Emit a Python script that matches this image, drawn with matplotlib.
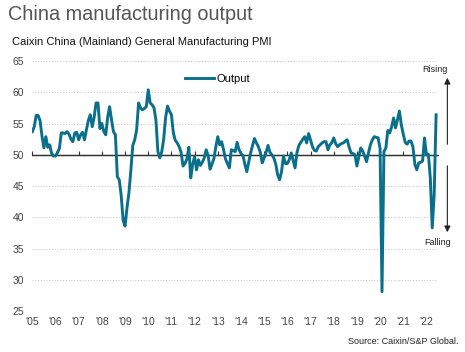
import numpy as np
import matplotlib.pyplot as plt

plt.rcParams['font.family'] = ['Liberation Sans', 'DejaVu Sans']

# Caixin China manufacturing PMI, output index, monthly Jan 2005 - Jun 2022
output = [
    53.7, 54.5, 56.3, 56.3, 55.5, 53.0, 51.1, 52.9, 51.2, 51.6, 50.2, 49.8,  # 2005
    49.8, 50.3, 51.0, 53.5, 53.5, 53.4, 53.7, 53.3, 52.5, 52.1, 53.5, 53.6,  # 2006
    52.4, 53.2, 53.6, 52.4, 54.0, 55.5, 56.4, 54.5, 56.0, 58.3, 58.3, 54.2,  # 2007
    55.0, 53.7, 53.2, 56.0, 57.7, 55.6, 53.7, 53.2, 46.5, 46.0, 43.5, 39.5,  # 2008
    38.6, 41.5, 43.9, 47.5, 51.5, 52.4, 54.0, 58.3, 57.5, 57.2, 57.4, 57.7,  # 2009
    60.4, 58.3, 58.0, 57.5, 55.5, 50.5, 49.5, 50.5, 52.5, 56.0, 57.8, 57.0,  # 2010
    56.4, 53.5, 52.3, 51.9, 51.3, 50.4, 48.2, 48.6, 49.3, 51.2, 46.3, 48.5,  # 2011
    49.7, 47.6, 49.2, 48.3, 48.8, 49.5, 50.8, 49.9, 47.7, 48.5, 49.4, 51.3,  # 2012
    52.9, 51.6, 52.1, 50.8, 49.3, 48.6, 47.9, 50.8, 50.7, 50.5, 52.0, 50.8,  # 2013
    50.2, 49.9, 48.5, 47.3, 48.8, 50.3, 51.5, 52.6, 51.9, 51.3, 50.4, 48.7,  # 2014
    49.5, 50.4, 51.5, 50.4, 50.0, 49.5, 48.5, 46.8, 46.0, 47.3, 49.8, 48.6,  # 2015
    48.6, 49.2, 50.3, 49.1, 47.9, 50.4, 51.5, 52.0, 52.5, 52.9, 51.9, 53.4,  # 2016
    52.4, 51.3, 50.7, 50.6, 51.3, 51.6, 51.9, 52.1, 52.1, 50.8, 51.6, 51.9,  # 2017
    52.7, 51.8, 51.3, 51.6, 51.8, 51.9, 52.2, 52.4, 51.2, 50.3, 50.2, 50.0,  # 2018
    48.2, 49.7, 51.1, 50.6, 49.8, 48.9, 50.3, 51.6, 52.4, 52.9, 52.8, 52.7,  # 2019
    51.0, 28.1, 50.5, 51.1, 53.9, 53.5, 54.5, 55.9, 54.3, 55.6, 57.0, 54.8,  # 2020
    53.3, 52.0, 51.7, 52.2, 52.2, 51.3, 48.5, 47.6, 48.7, 48.8, 49.0, 52.7,  # 2021
    50.0, 50.1, 46.3, 38.3, 43.6, 56.4,                                      # 2022
]
start_year = 2005
years = list(range(2005, 2023))
year_labels = ["'" + str(y)[2:] for y in years]
y_ticks = [25, 30, 35, 40, 45, 50, 55, 60, 65]

line_color = '#0a6f8b'
text_gray = '#444444'

x = start_year + np.arange(len(output)) / 12

fig = plt.figure(figsize=(4.65, 3.52), dpi=100)
ax = fig.add_axes([0.0695, 0.1165, 0.8725, 0.710])

for v in y_ticks:
    if v != 50:
        ax.axhline(v, color='#cccccc', lw=0.8, ls=(0, (1, 1.5)), zorder=0)
ax.axhline(50, color='#333333', lw=1.0, zorder=1)

ax.plot(x, output, color=line_color, lw=2.1, label='Output', zorder=3,
        solid_joinstyle='round')

ax.set_xlim(2005, 2022.5)
ax.set_ylim(25, 65)
for s in ax.spines.values():
    s.set_visible(False)

ax.set_yticks(y_ticks)
ax.set_yticklabels([str(v) for v in y_ticks])
ax.set_xticks(years)
ax.set_xticklabels(year_labels)
ax.tick_params(axis='both', length=0, labelsize=7.5, labelcolor=text_gray)
ax.tick_params(axis='y', pad=6)
ax.tick_params(axis='x', pad=4)

# small year ticks hanging under the 50 line
sec = ax.secondary_xaxis((50 - 25) / 40)
sec.spines['bottom'].set_visible(False)
sec.set_xticks(years)
sec.set_xticklabels([])
sec.tick_params(axis='x', length=3, width=0.8, color='#333333', direction='out')

leg = ax.legend(loc='center left', bbox_to_anchor=(0.352, 0.93), frameon=False,
                fontsize=8, handlelength=2.6, handletextpad=0.2)

# rising / falling arrows
ax.annotate('', xy=(1.023, 0.944), xytext=(1.023, 0.656), xycoords='axes fraction',
            arrowprops=dict(arrowstyle='-|>', color='#222222', lw=0.8,
                            mutation_scale=9), annotation_clip=False)
ax.annotate('', xy=(1.023, 0.304), xytext=(1.023, 0.592), xycoords='axes fraction',
            arrowprops=dict(arrowstyle='-|>', color='#222222', lw=0.8,
                            mutation_scale=9), annotation_clip=False)
ax.text(0.993, 0.968, 'Rising', transform=ax.transAxes, fontsize=6.5,
        ha='center', va='center', color='#222222')
ax.text(0.998, 0.273, 'Falling', transform=ax.transAxes, fontsize=6.5,
        ha='center', va='center', color='#222222')

fig.text(8 / 465, 1 - 15 / 352, 'China manufacturing output', fontsize=14.3,
         color='#555555', ha='left', va='center')
fig.text(12 / 465, 1 - 42 / 352, 'Caixin China (Mainland) General Manufacturing PMI',
         fontsize=8, color='#111111', ha='left', va='center')
fig.text(458 / 465, 1 - 342 / 352, 'Source: Caixin/S&P Global.', fontsize=6.5,
         color='#222222', ha='right', va='center')

fig.savefig('out.png', dpi=100)
